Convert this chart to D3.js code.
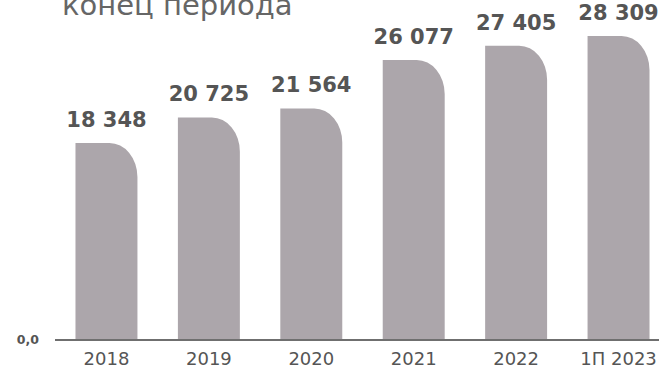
<!DOCTYPE html>
<html>
<head>
<meta charset="utf-8">
<script src="https://cdn.jsdelivr.net/npm/d3@7"></script>
<style>
  html, body { margin: 0; padding: 0; background: #fff; }
  svg { display: block; font-family: "DejaVu Sans", Verdana, sans-serif; }
</style>
</head>
<body>
<svg id="chart" width="659" height="369"></svg>
<script>
// Period-end values
const categories = ["2018", "2019", "2020", "2021", "2022", "1П 2023"];
const values = [18348, 20725, 21564, 26077, 27405, 28309];
const valueLabels = ["18 348", "20 725", "21 564", "26 077", "27 405", "28 309"];
const titleText = "конец периода";
const zeroLabel = "0,0";

const svg = d3.select("#chart");

const x = d3.scaleBand()
  .domain(categories)
  .range([55, 670])
  .paddingInner(0.395)
  .paddingOuter(0.2);

const y = d3.scaleLinear()
  .domain([0, 31660])
  .range([340, 0]);

// Title (partly above the visible area)
svg.append("text")
  .attr("x", 62)
  .attr("y", 15)
  .attr("fill", "#666")
  .attr("font-size", 29)
  .text(titleText);

// Bar with a rounded top-right corner
function barPath(x0, w, top, bottom) {
  const rx = Math.min(28, w), ry = Math.min(34, bottom - top);
  return `M${x0},${bottom}V${top}H${x0 + w - rx}` +
    `A${rx},${ry} 0 0 1 ${x0 + w},${top + ry}V${bottom}Z`;
}

svg.append("g")
  .selectAll("path")
  .data(values)
  .join("path")
  .attr("d", (d, i) => barPath(x(categories[i]), x.bandwidth(), y(d), y(0)))
  .attr("fill", "#aca6ab");

// Value labels
svg.append("g")
  .selectAll("text")
  .data(values)
  .join("text")
  .attr("x", (d, i) => x(categories[i]) + x.bandwidth() / 2)
  .attr("y", d => y(d) - 16)
  .attr("text-anchor", "middle")
  .attr("font-size", 21)
  .attr("font-weight", "bold")
  .attr("fill", "#555")
  .text((d, i) => valueLabels[i]);

// Category axis
const axis = svg.append("g")
  .attr("transform", `translate(0,${y(0)})`)
  .call(d3.axisBottom(x).tickSize(0).tickPadding(12.5));
axis.select(".domain").remove();
axis.selectAll("text")
  .attr("font-size", 18)
  .attr("fill", "#555")
  .attr("font-family", "DejaVu Sans, Verdana, sans-serif");

svg.append("line")
  .attr("x1", 55).attr("x2", 659)
  .attr("y1", y(0)).attr("y2", y(0))
  .attr("stroke", "#6f6f6f")
  .attr("stroke-width", 2);

// Zero label on the value axis
svg.append("text")
  .attr("x", 39)
  .attr("y", y(0) + 4)
  .attr("text-anchor", "end")
  .attr("font-size", 12.5)
  .attr("font-weight", "bold")
  .attr("fill", "#555")
  .text(zeroLabel);
</script>
</body>
</html>
